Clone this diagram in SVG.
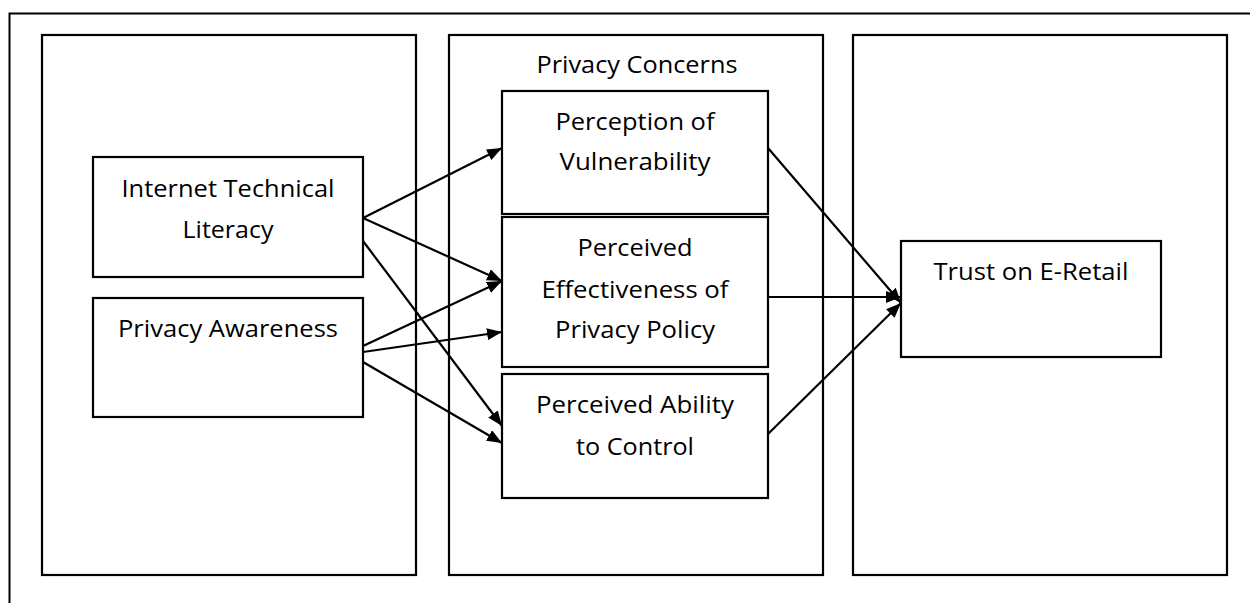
<svg xmlns="http://www.w3.org/2000/svg" width="1250" height="603" viewBox="0 0 1250 603">
<style>
.box{fill:none;stroke:#000;stroke-width:2.2}
.frame{fill:none;stroke:#000;stroke-width:2}
.t{font-family:"Open Sans",Lato,"Liberation Sans",sans-serif;font-size:23.5px;fill:#000;text-anchor:middle}
.c{fill:none;stroke:#000;stroke-width:2.2;marker-end:url(#ah)}
</style>
<defs>
<marker id="ah" markerUnits="userSpaceOnUse" markerWidth="16" markerHeight="12" refX="15" refY="6" orient="auto">
<path d="M0,0 L15,6 L0,12 Z" fill="#000"/>
</marker>
</defs>
<rect width="1250" height="603" fill="#fff"/>
<g id="frame">
<path class="frame" d="M9.5,603 V13.5 H1250"/>
</g>
<g id="columns">
<rect id="col-left" class="box" x="42" y="35" width="374" height="540"/>
<rect id="col-middle" class="box" x="449" y="35" width="374" height="540"/>
<rect id="col-right" class="box" x="853" y="35" width="374" height="540"/>
<text class="t" x="637" y="73" textLength="201" lengthAdjust="spacingAndGlyphs">Privacy Concerns</text>
</g>
<g id="connectors">
<line class="c" x1="363" y1="218" x2="502" y2="148"/>
<line class="c" x1="363" y1="218" x2="502" y2="281"/>
<line class="c" x1="363" y1="241" x2="502" y2="426"/>
<line class="c" x1="363" y1="346" x2="502" y2="281"/>
<line class="c" x1="363" y1="352" x2="502" y2="332"/>
<line class="c" x1="363" y1="362" x2="502" y2="443"/>
<line class="c" x1="768" y1="148" x2="901" y2="303"/>
<line class="c" x1="768" y1="297" x2="901" y2="297"/>
<line class="c" x1="768" y1="434" x2="901" y2="303"/>
</g>
<g id="internet-technical-literacy">
<rect class="box" x="93" y="157" width="270" height="120"/>
<text class="t" x="228" y="197" textLength="213" lengthAdjust="spacingAndGlyphs">Internet Technical</text>
<text class="t" x="228" y="238" textLength="91" lengthAdjust="spacingAndGlyphs">Literacy</text>
</g>
<g id="privacy-awareness">
<rect class="box" x="93" y="298" width="270" height="119"/>
<text class="t" x="228" y="337" textLength="220" lengthAdjust="spacingAndGlyphs">Privacy Awareness</text>
</g>
<g id="perception-of-vulnerability">
<rect class="box" x="502" y="91" width="266" height="123"/>
<text class="t" x="635" y="130" textLength="159" lengthAdjust="spacingAndGlyphs">Perception of</text>
<text class="t" x="635" y="170" textLength="151" lengthAdjust="spacingAndGlyphs">Vulnerability</text>
</g>
<g id="perceived-effectiveness">
<rect class="box" x="502" y="217" width="266" height="150"/>
<text class="t" x="635" y="256" textLength="115" lengthAdjust="spacingAndGlyphs">Perceived</text>
<text class="t" x="635" y="298" textLength="187" lengthAdjust="spacingAndGlyphs">Effectiveness of</text>
<text class="t" x="635" y="338" textLength="160" lengthAdjust="spacingAndGlyphs">Privacy Policy</text>
</g>
<g id="perceived-ability">
<rect class="box" x="502" y="374" width="266" height="124"/>
<text class="t" x="635" y="413" textLength="198" lengthAdjust="spacingAndGlyphs">Perceived Ability</text>
<text class="t" x="635" y="455" textLength="118" lengthAdjust="spacingAndGlyphs">to Control</text>
</g>
<g id="trust-on-e-retail">
<rect class="box" x="901" y="241" width="260" height="116"/>
<text class="t" x="1031" y="280" textLength="195" lengthAdjust="spacingAndGlyphs">Trust on E-Retail</text>
</g>
</svg>
